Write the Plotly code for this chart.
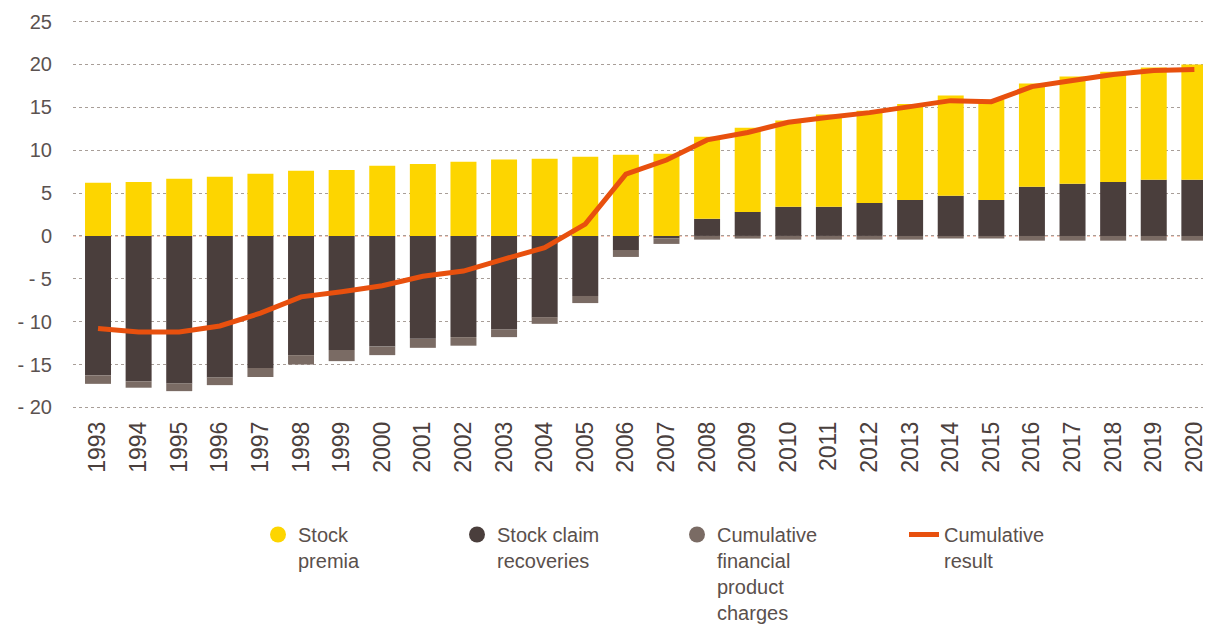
import plotly.graph_objects as go

years = [str(y) for y in range(1993, 2021)]
premia = [6.2, 6.3, 6.66, 6.9, 7.25, 7.6, 7.7, 8.2, 8.4, 8.65, 8.9, 9.0, 9.23, 9.47, 9.58,
          9.58, 9.82, 10.05, 10.75, 10.74, 11.18, 11.68, 11.69, 12.04, 12.5, 12.86, 13.09, 13.44]
recoveries = [-16.25, -16.95, -17.2, -16.5, -15.4, -13.9, -13.3, -12.9, -12.0, -11.8, -10.9, -9.47,
              -7.0, -1.64, -0.3, 2.0, 2.8, 3.4, 3.4, 3.85, 4.2, 4.7, 4.2, 5.75, 6.1, 6.3, 6.55, 6.55]
charges = [-1.0, -0.75, -0.9, -0.9, -1.05, -1.1, -1.3, -1.0, -1.05, -1.0, -0.9, -0.78, -0.83,
           -0.81, -0.63, -0.43, -0.31, -0.43, -0.43, -0.43, -0.43, -0.3, -0.3, -0.55, -0.55,
           -0.55, -0.55, -0.55]
result = [-10.8, -11.2, -11.2, -10.5, -9.0, -7.1, -6.5, -5.8, -4.7, -4.1, -2.7, -1.37, 1.37,
          7.2, 8.85, 11.2, 12.07, 13.25, 13.83, 14.38, 15.08, 15.78, 15.66, 17.41, 18.12,
          18.82, 19.28, 19.4]
ytick_vals = [-20, -15, -10, -5, 0, 5, 10, 15, 20, 25]
ytick_text = ["- 20", "- 15", "- 10", "- 5", "0", "5", "10", "15", "20", "25"]
legend_names = ["Stock<br>premia", "Stock claim<br>recoveries",
                "Cumulative<br>financial<br>product<br>charges", "Cumulative<br>result"]

YELLOW = "#FDD500"
DARK = "#4A3E3C"
GREY = "#7A6B64"
ORANGE = "#E8500E"
TEXT = "#4A403D"
FONT = "Liberation Sans, Arial, sans-serif"

fig = go.Figure()
fig.add_trace(go.Bar(x=years, y=recoveries, marker=dict(color=DARK, line=dict(width=0)),
                     showlegend=False, name="Stock claim recoveries"))
fig.add_trace(go.Bar(x=years, y=premia, marker=dict(color=YELLOW, line=dict(width=0)),
                     showlegend=False, name="Stock premia"))
fig.add_trace(go.Bar(x=years, y=charges, marker=dict(color=GREY, line=dict(width=0)),
                     showlegend=False, name="Cumulative financial product charges"))
fig.add_trace(go.Scatter(x=years, y=result, mode="lines",
                         line=dict(color=ORANGE, width=5), name=legend_names[3],
                         legend="legend4"))

# legend-only circle markers
for nm, col, lg in [(legend_names[0], YELLOW, "legend"),
                    (legend_names[1], DARK, "legend2"),
                    (legend_names[2], GREY, "legend3")]:
    fig.add_trace(go.Scatter(x=[None], y=[None], mode="markers", name=nm,
                             marker=dict(color=col, size=18, symbol="circle"),
                             legend=lg))

fig.add_shape(type="line", xref="paper", yref="y", x0=0, x1=1, y0=0, y1=0,
              line=dict(color="#F08A6A", width=1, dash="dot"), layer="below")

# page body has an 8px default margin; figure sized/offset to compensate
W, H = 1203, 620
ML, MT, MB = 65, 11, 218
PW = W - ML
PH = H - MT - MB
leg_common = dict(orientation="v", yanchor="top", y=(H - MB - 507) / PH, xanchor="left",
                  font=dict(family=FONT, size=20, color="#5A504C"),
                  bgcolor="rgba(0,0,0,0)", valign="top")
fig.update_layout(
    width=W, height=H,
    margin=dict(l=ML, r=0, t=MT, b=MB, autoexpand=False),
    plot_bgcolor="white", paper_bgcolor="white",
    barmode="relative", bargap=0.36,
    font=dict(family=FONT, color=TEXT),
    xaxis=dict(range=[-0.616, 27.41], tickangle=-90, showgrid=False, zeroline=False,
               showline=False, ticks="", automargin=False, ticklabelstandoff=6,
               tickfont=dict(size=23, color=TEXT, family=FONT)),
    yaxis=dict(range=[-20.3, 25.3], tickvals=ytick_vals, ticktext=ytick_text,
               showgrid=True, gridcolor="#A89E98", griddash="dot", gridwidth=1,
               zeroline=False, showline=False, ticks="", ticklabelstandoff=20,
               automargin=False,
               tickfont=dict(size=20, color="#5B5250", family=FONT)),
    legend=dict(leg_common, x=(298 - 48 - ML) / PW),
    legend2=dict(leg_common, x=(497 - 48 - ML) / PW),
    legend3=dict(leg_common, x=(717 - 48 - ML) / PW),
    legend4=dict(leg_common, x=(944 - 48 - ML) / PW),
)

fig.write_html("out.html")
